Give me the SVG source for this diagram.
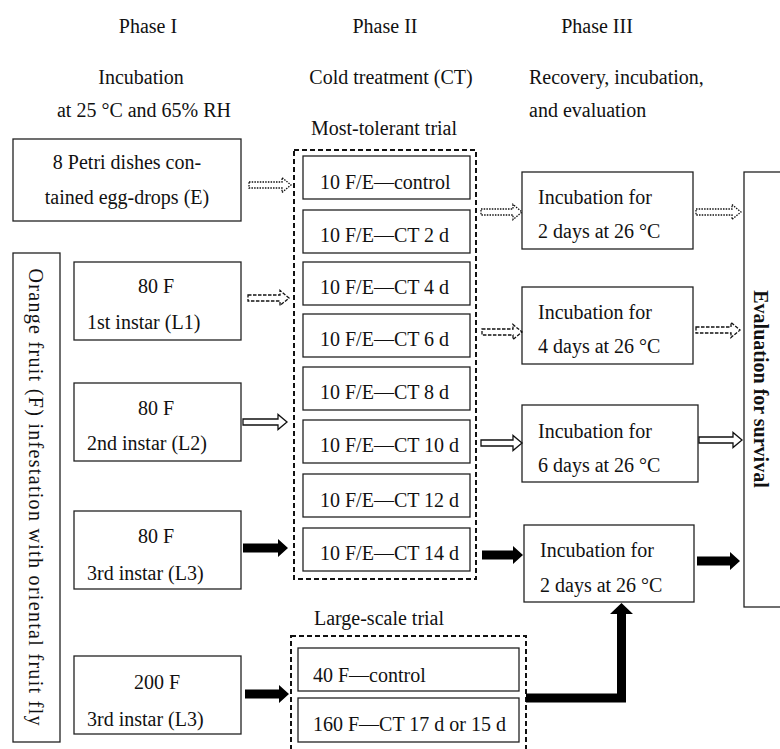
<svg xmlns="http://www.w3.org/2000/svg" width="780" height="749" viewBox="0 0 780 749">
<style>
text{font-family:"Liberation Serif","Times New Roman",serif;font-size:20px;fill:#111}
.c{text-anchor:middle}
.box{fill:#fff;stroke:#222;stroke-width:1.3}
.grp{fill:none;stroke:#111;stroke-width:2;stroke-dasharray:5 3}
.dot{fill:#fff;stroke:#111;stroke-width:1.3;stroke-dasharray:1.5 1.2}
.dash{fill:#fff;stroke:#111;stroke-width:1.3;stroke-dasharray:3.5 1.5}
.hol{fill:#fff;stroke:#111;stroke-width:1.3}
.blk{fill:#000;stroke:none}
</style>
<rect width="780" height="749" fill="#fff"/>
<g id="headers">
<text class="c" x="148" y="33" font-size="21">Phase I</text>
<text class="c" x="385" y="33" font-size="21">Phase II</text>
<text class="c" x="597" y="33" font-size="21">Phase III</text>
<text class="c" x="141" y="84">Incubation</text>
<text class="c" x="144" y="117" font-size="21">at 25 °C and 65% RH</text>
<text class="c" x="391" y="84">Cold treatment (CT)</text>
<text x="529" y="84">Recovery, incubation,</text>
<text x="529" y="117">and evaluation</text>
<text class="c" x="384" y="135">Most-tolerant trial</text>
<text class="c" x="379" y="625">Large-scale trial</text>
</g>
<g id="nodeE"><rect class="box" x="13" y="139" width="228" height="82"/>
<text class="c" x="127" y="169">8 Petri dishes con-</text>
<text class="c" x="127" y="204">tained egg-drops (E)</text></g>
<g id="nodeFruit"><rect class="box" x="13" y="253" width="47" height="489"/>
<text class="c" transform="translate(29,497) rotate(90)" font-size="23" textLength="457" lengthAdjust="spacing">Orange fruit (F) infestation with oriental fruit fly</text></g>
<g id="nodeL1"><rect class="box" x="74" y="262" width="167" height="78"/>
<text class="c" x="156" y="293">80 F</text><text x="87" y="329">1st instar (L1)</text></g>
<g id="nodeL2"><rect class="box" x="74" y="383" width="167" height="78"/>
<text class="c" x="156" y="415">80 F</text><text x="87" y="450">2nd instar (L2)</text></g>
<g id="nodeL3"><rect class="box" x="74" y="511" width="167" height="78"/>
<text class="c" x="156" y="543">80 F</text><text x="87" y="580">3rd instar (L3)</text></g>
<g id="nodeL3b"><rect class="box" x="74" y="656" width="167" height="78"/>
<text class="c" x="157" y="689">200 F</text><text x="87" y="726">3rd instar (L3)</text></g>
<g id="groupTolerant"><rect class="grp" x="294" y="150" width="182" height="429"/>
<g id="ct0"><rect class="box" x="303" y="156" width="167" height="43"/><text x="320" y="189">10 F/E—control</text></g>
<g id="ct2"><rect class="box" x="303" y="210" width="167" height="43"/><text x="320" y="242">10 F/E—CT 2 d</text></g>
<g id="ct4"><rect class="box" x="303" y="262" width="167" height="43"/><text x="320" y="294">10 F/E—CT 4 d</text></g>
<g id="ct6"><rect class="box" x="303" y="314" width="167" height="43"/><text x="320" y="346">10 F/E—CT 6 d</text></g>
<g id="ct8"><rect class="box" x="303" y="367" width="167" height="43"/><text x="320" y="399">10 F/E—CT 8 d</text></g>
<g id="ct10"><rect class="box" x="303" y="420" width="167" height="43"/><text x="320" y="452">10 F/E—CT 10 d</text></g>
<g id="ct12"><rect class="box" x="303" y="474" width="167" height="43"/><text x="320" y="507">10 F/E—CT 12 d</text></g>
<g id="ct14"><rect class="box" x="303" y="528" width="167" height="43"/><text x="320" y="560">10 F/E—CT 14 d</text></g>
</g>
<g id="groupLarge"><rect class="grp" x="291" y="636" width="235" height="130"/>
<g id="lg0"><rect class="box" x="298" y="648" width="221" height="43"/><text x="313" y="682">40 F—control</text></g>
<g id="lg1"><rect class="box" x="298" y="698" width="221" height="44"/><text x="313" y="731">160 F—CT 17 d or 15 d</text></g>
</g>
<g id="inc1"><rect class="box" x="522" y="172" width="171" height="77"/>
<text x="538" y="204">Incubation for</text><text x="538" y="238">2 days at 26 °C</text></g>
<g id="inc2"><rect class="box" x="522" y="287" width="171" height="77"/>
<text x="538" y="319">Incubation for</text><text x="538" y="353">4 days at 26 °C</text></g>
<g id="inc3"><rect class="box" x="522" y="405" width="176" height="77"/>
<text x="538" y="438">Incubation for</text><text x="538" y="472">6 days at 26 °C</text></g>
<g id="inc4"><rect class="box" x="524" y="525" width="170" height="77"/>
<text x="540" y="557">Incubation for</text><text x="540" y="592">2 days at 26 °C</text></g>
<g id="evaluation"><rect class="box" x="744" y="172" width="50" height="435"/>
<text class="c" transform="translate(754,389) rotate(90)" font-size="22" font-weight="bold">Evaluation for survival</text></g>
<g id="connectors">
<path class="dot" d="M249,182 H282 V177.5 L291,185 L282,192.5 V188 H249 Z"/>
<path class="dot" d="M481,209 H513 V204.5 L522,212 L513,219.5 V215 H481 Z"/>
<path class="dot" d="M696,209 H732 V204.5 L741,212 L732,219.5 V215 H696 Z"/>
<path class="dash" d="M248,295 H280 V290.5 L289,298 L280,305.5 V301 H248 Z"/>
<path class="dash" d="M482,329 H513 V324.5 L522,332 L513,339.5 V335 H482 Z"/>
<path class="dash" d="M696,327 H731 V322.5 L740,330 L731,337.5 V333 H696 Z"/>
<path class="hol" d="M243,419 H278 V414.5 L287,422 L278,429.5 V425 H243 Z"/>
<path class="hol" d="M481,440 H513 V435.5 L522,443 L513,450.5 V446 H481 Z"/>
<path class="hol" d="M699,437 H733 V432.5 L742,440 L733,447.5 V443 H699 Z"/>
<path class="blk" d="M243,543.5 H278 V539 L288,548 L278,557 V552.5 H243 Z"/>
<path class="blk" d="M482,550.5 H513 V546 L523,555 L513,564 V559.5 H482 Z"/>
<path class="blk" d="M697,556.5 H730 V552 L740,561 L730,570 V565.5 H697 Z"/>
<path class="blk" d="M245,689.5 H279 V685 L289,694 L279,703 V698.5 H245 Z"/>
<path class="blk" d="M526,693.5 H617 V614 H610 L621.5,603 L633,614 H626 V702.5 H526 Z"/>
</g>
</svg>
